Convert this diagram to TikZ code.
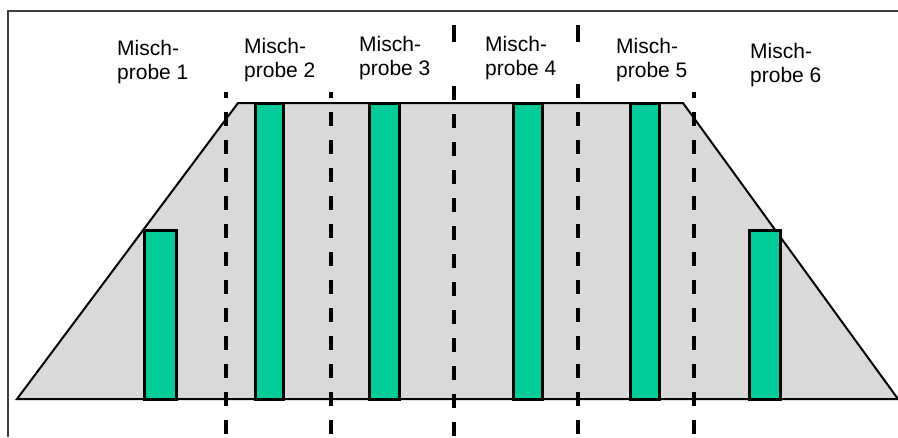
\documentclass[tikz,border=0pt]{standalone}
\usepackage{fontspec}
\setmainfont{Liberation Sans}
\definecolor{heapgray}{RGB}{217,217,217}
\definecolor{coregreen}{RGB}{0,204,153}
\begin{document}
\begin{tikzpicture}[x=1pt,y=-1pt,
  frame/.style={draw=black!75, line width=2pt},
  heap/.style={draw=black, line width=2pt, fill=heapgray, line join=miter},
  core/.style={draw=black, line width=3pt, fill=coregreen},
  divider/.style={line width=3.5pt, dash pattern=on 14pt off 14pt},
  boldline/.style={line width=4.5pt, dash pattern=on 14pt off 14pt},
  tag/.style={anchor=north west, inner sep=0pt, align=left,
              font=\fontsize{21}{24}\selectfont}]
  \useasboundingbox (0,0) rectangle (898,437);

  % outer frame
  \draw[frame] (8,437) -- (8,11) -- (898,11);

  % stockpile cross-section
  \draw[heap] (17,399) -- (238,103) -- (683,103) -- (898,399) -- cycle;

  % sampling cores
  \draw[core] (144,230) rectangle (176,399);
  \draw[core] (255,103) rectangle (283,399);
  \draw[core] (369,103) rectangle (399,399);
  \draw[core] (513,103) rectangle (542,399);
  \draw[core] (630,103) rectangle (659,399);
  \draw[core] (749,230) rectangle (780,399);

  % section boundaries
  \draw[divider, dash phase=8pt] (226,92) -- (226,437);
  \draw[divider, dash phase=8pt] (331,92) -- (331,437);
  \draw[divider, dash pattern={}] (454,25) -- (454,42);
  \draw[divider] (454,86) -- (454,437);
  \draw[boldline, dash pattern={}] (578,25) -- (578,42);
  \draw[boldline] (578,84) -- (578,437);
  \draw[boldline, dash phase=8pt] (694,92) -- (694,437);

  % section labels
  \node[tag] (m1) at (117,40) {Misch-\\probe 1};
  \node[tag] (m2) at (244,38) {Misch-\\probe 2};
  \node[tag] (m3) at (359,36) {Misch-\\probe 3};
  \node[tag] (m4) at (485,36) {Misch-\\probe 4};
  \node[tag] (m5) at (616,38) {Misch-\\probe 5};
  \node[tag] (m6) at (750,43) {Misch-\\probe 6};
\end{tikzpicture}
\end{document}
